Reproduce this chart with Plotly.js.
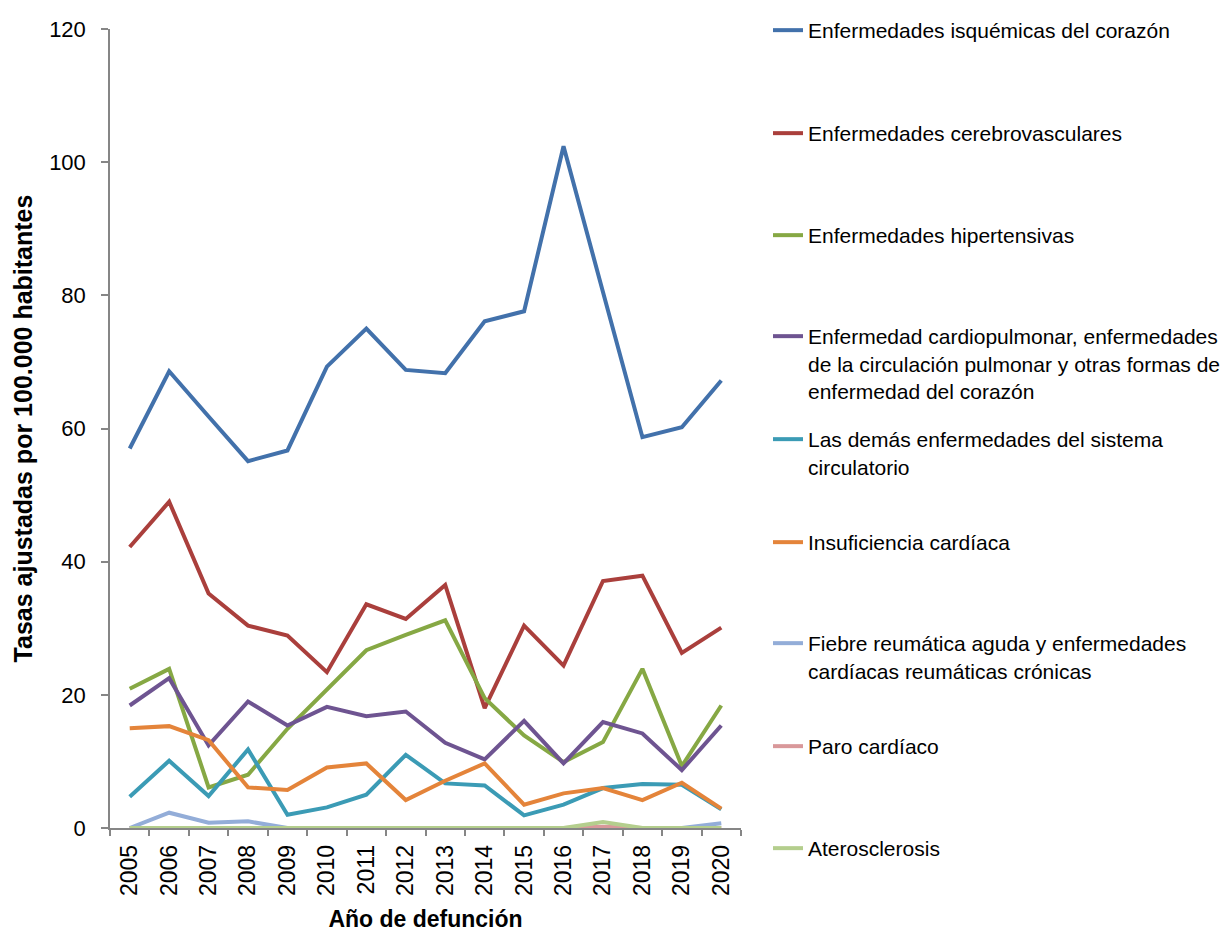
<!DOCTYPE html>
<html><head><meta charset="utf-8">
<script src="https://cdn.plot.ly/plotly-3.0.1.min.js"></script>
<style>html,body{margin:0;padding:0;background:#fff}</style>
</head><body><div id="chart" style="width:1221px;height:932px"></div>
<script>
const years = ['2005','2006','2007','2008','2009','2010','2011','2012','2013','2014','2015','2016','2017','2018','2019','2020'];

const isquemicas      = [57.0, 68.6, 61.8, 55.1, 56.7, 69.3, 75.0, 68.8, 68.3, 76.1, 77.6, 102.4, 80.5, 58.7, 60.2, 67.2];
const cerebro         = [42.2, 49.0, 35.2, 30.4, 28.9, 23.4, 33.6, 31.4, 36.5, 18.0, 30.4, 24.4, 37.1, 37.9, 26.3, 30.1];
const hipertensivas   = [20.9, 23.9, 6.1, 8.0, 14.9, 20.9, 26.7, 29.0, 31.2, 19.5, 13.9, 9.9, 12.9, 23.9, 9.3, 18.4];
const cardiopulmonar  = [18.4, 22.5, 12.4, 19.0, 15.4, 18.2, 16.8, 17.5, 12.8, 10.3, 16.1, 9.7, 15.9, 14.2, 8.7, 15.4];
const demas           = [4.7, 10.1, 4.8, 11.8, 2.0, 3.1, 5.0, 11.0, 6.7, 6.4, 1.9, 3.5, 6.0, 6.6, 6.5, 2.8];
const insuficiencia   = [15.0, 15.3, 13.2, 6.1, 5.7, 9.1, 9.7, 4.2, 7.1, 9.7, 3.5, 5.2, 6.0, 4.2, 6.8, 2.9];
const fiebre          = [0.0, 2.3, 0.8, 1.0, 0.0, 0.0, 0.0, 0.0, 0.0, 0.0, 0.0, 0.0, 0.0, 0.0, 0.0, 0.7];
const paro            = [0.0, 0.0, 0.0, 0.0, 0.0, 0.0, 0.0, 0.0, 0.0, 0.0, 0.0, 0.0, 0.2, 0.0, 0.0, 0.0];
const aterosclerosis  = [0.0, 0.0, 0.0, 0.0, 0.0, 0.0, 0.0, 0.0, 0.0, 0.0, 0.0, 0.0, 0.9, 0.0, 0.0, 0.0];

const seriesNames = [
  'Enfermedades isquémicas del corazón',
  'Enfermedades cerebrovasculares',
  'Enfermedades hipertensivas',
  'Enfermedad cardiopulmonar, enfermedades<br>de la circulación pulmonar y otras formas de<br>enfermedad del corazón',
  'Las demás enfermedades del sistema<br>circulatorio',
  'Insuficiencia cardíaca',
  'Fiebre reumática aguda y enfermedades<br>cardíacas reumáticas crónicas',
  'Paro cardíaco',
  'Aterosclerosis'
];
const seriesValues = [isquemicas, cerebro, hipertensivas, cardiopulmonar, demas, insuficiencia, fiebre, paro, aterosclerosis];

const yTickVals = [0, 20, 40, 60, 80, 100, 120];
const yTitle = 'Tasas ajustadas por 100.000 habitantes';
const xTitle = 'Año de defunción';

/* styles */
const colors = ['#4271AB', '#AA3F3C', '#86A844', '#6E5491', '#3B9BB5', '#E4843A', '#93ADD8', '#D9989A', '#B4CE8D'];
const legendCenters = [31, 134, 236, 337, 440, 543, 644, 747, 849];
const FONT = "'Liberation Sans', Arial, sans-serif";
const W = 1221, H = 932;

const traces = seriesValues.map((vals, i) => ({
  type: 'scatter', mode: 'lines', x: years, y: vals, name: seriesNames[i],
  line: {color: colors[i], width: 4},
  legend: i === 0 ? 'legend' : 'legend' + (i + 1)
}));

const layout = {
  width: W, height: H,
  paper_bgcolor: '#fff', plot_bgcolor: '#fff',
  margin: {l: 110, r: 480, t: 29, b: 104},
  font: {family: FONT, size: 21, color: '#000'},
  xaxis: {
    type: 'category', range: [-0.5, 15.5],
    tickson: 'boundaries', ticks: 'outside', ticklen: 6, tickcolor: '#868686', tickwidth: 1.5,
    showline: true, linecolor: '#868686', linewidth: 1.5,
    showgrid: false, zeroline: false, tickangle: -90,
    ticklabelstandoff: 6,
    tickfont: {family: FONT, size: 23, color: '#000'},
    title: {text: '<b>' + xTitle + '</b>', font: {family: FONT, size: 23, color: '#000'}, standoff: 16},
    automargin: false
  },
  yaxis: {
    range: [0, 120], tickvals: yTickVals, ticks: 'outside', ticklen: 7, tickcolor: '#868686', tickwidth: 1.5,
    showline: true, linecolor: '#868686', linewidth: 1.5,
    showgrid: false, zeroline: false,
    ticklabelstandoff: 11,
    tickfont: {family: FONT, size: 22, color: '#000'},
    title: {text: '<b>' + yTitle + '</b>', font: {family: FONT, size: 25, color: '#000'}, standoff: 9},
    automargin: false
  },
  showlegend: true
};

legendCenters.forEach((c, i) => {
  const key = i === 0 ? 'legend' : 'legend' + (i + 1);
  layout[key] = {
    xref: 'container', yref: 'container',
    x: 768 / W, y: 1 - (c - 21) / H,
    xanchor: 'left', yanchor: 'top', valign: 'top',
    bgcolor: 'rgba(0,0,0,0)', borderwidth: 0,
    font: {family: FONT, size: 21, color: '#000'},
    itemwidth: 30, tracegroupgap: 0
  };
});

Plotly.newPlot('chart', traces, layout, {displayModeBar: false, responsive: false});
</script></body></html>
